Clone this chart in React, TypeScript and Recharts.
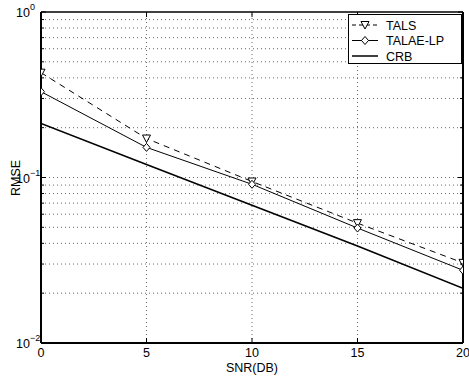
import React from "react";
import { LineChart, Line, XAxis, YAxis, ReferenceLine } from "recharts";

const snr = [0, 5, 10, 15, 20];
const tals = [0.43, 0.172, 0.0946, 0.053, 0.0305];
const talae = [0.33, 0.152, 0.091, 0.0495, 0.0275];
const crb = [0.212, 0.12, 0.068, 0.0385, 0.0214];

const xTicks = [0, 5, 10, 15, 20];
const yMajor = [0.01, 0.1, 1];
const yMinor = [0.02, 0.03, 0.04, 0.05, 0.06, 0.07, 0.08, 0.09, 0.2, 0.3, 0.4, 0.5, 0.6, 0.7, 0.8, 0.9];
const yExp = ["0", "−1", "−2"];

const data = snr.map((s, i) => ({ snr: s, tals: tals[i], talae: talae[i], crb: crb[i] }));

const W = 469;
const H = 376;
const M = { top: 12, right: 6, bottom: 0, left: 0 };
const YW = 41;
const XH = 33;
const PLOT_RIGHT = W - M.right;
const PLOT_TOP = M.top;
const FONT = "'Liberation Sans', Arial, Helvetica, sans-serif";

const expFor = (v: number) => {
  if (Math.abs(v - 1) < 1e-9) return yExp[0];
  if (Math.abs(v - 0.1) < 1e-9) return yExp[1];
  return yExp[2];
};

const YTick = (props: any) => {
  const { x, y, payload } = props;
  const v = payload.value;
  const major = yMajor.some((m) => Math.abs(m - v) < 1e-9);
  const len = major ? 5 : 3;
  return (
    <g>
      <line x1={x} x2={x + len} y1={y} y2={y} stroke="#000" strokeWidth={1} />
      <line x1={PLOT_RIGHT - len} x2={PLOT_RIGHT} y1={y} y2={y} stroke="#000" strokeWidth={1} />
      {major && (
        <text x={x - 11} y={y + 5} textAnchor="end" fontFamily={FONT} fontSize={12.5} fill="#000">
          10
        </text>
      )}
      {major && (
        <text x={x - 11} y={y - 2} textAnchor="start" fontFamily={FONT} fontSize={9} fill="#000">
          {expFor(v)}
        </text>
      )}
    </g>
  );
};

const XTick = (props: any) => {
  const { x, y, payload } = props;
  return (
    <g>
      <line x1={x} x2={x} y1={y} y2={y - 5} stroke="#000" strokeWidth={1} />
      <line x1={x} x2={x} y1={PLOT_TOP} y2={PLOT_TOP + 5} stroke="#000" strokeWidth={1} />
      <text x={x} y={y + 14} textAnchor="middle" fontFamily={FONT} fontSize={12.5} fill="#000">
        {payload.value}
      </text>
    </g>
  );
};

const TriDot = (props: any) => {
  const { cx, cy } = props;
  if (cx == null || cy == null) return null;
  return (
    <path
      d={`M${cx - 4},${cy - 3.5} L${cx + 4},${cy - 3.5} L${cx},${cy + 4} Z`}
      fill="#fff"
      stroke="#000"
      strokeWidth={1}
    />
  );
};

const DiaDot = (props: any) => {
  const { cx, cy } = props;
  if (cx == null || cy == null) return null;
  return (
    <path
      d={`M${cx},${cy - 4} L${cx + 3.5},${cy} L${cx},${cy + 4} L${cx - 3.5},${cy} Z`}
      fill="#fff"
      stroke="#000"
      strokeWidth={1}
    />
  );
};

const legendItems = [
  { name: "TALS", dash: "4 3", marker: "tri", width: 1 },
  { name: "TALAE-LP", dash: undefined, marker: "dia", width: 1 },
  { name: "CRB", dash: undefined, marker: "none", width: 1.5 },
];

const LegendBox = () => (
  <svg width={114} height={50} style={{ display: "block" }}>
    <rect x={0.5} y={0.5} width={113} height={49} fill="#fff" stroke="#000" strokeWidth={1} />
    {legendItems.map((it, i) => {
      const cy = 11 + i * 15.5;
      return (
        <g key={it.name}>
          <line x1={4} x2={30} y1={cy} y2={cy} stroke="#000" strokeWidth={it.width} strokeDasharray={it.dash} />
          {it.marker === "tri" && <TriDot cx={17} cy={cy} />}
          {it.marker === "dia" && <DiaDot cx={17} cy={cy} />}
          <text x={38} y={cy + 4.5} fontFamily={FONT} fontSize={12.5} fill="#000">
            {it.name}
          </text>
        </g>
      );
    })}
  </svg>
);

export default function App() {
  return (
    <div style={{ position: "absolute", left: 0, top: 0, width: W, height: H, background: "#fff" }}>
      <LineChart width={W} height={H} data={data} margin={M}>
        {yMinor.concat([0.1]).map((v) => (
          <ReferenceLine key={"gy" + v} y={v} stroke="#444" strokeWidth={0.8} strokeDasharray="1 3" />
        ))}
        {[5, 10, 15].map((v) => (
          <ReferenceLine key={"gx" + v} x={v} stroke="#444" strokeWidth={0.8} strokeDasharray="1 3" />
        ))}
        <XAxis
          dataKey="snr"
          type="number"
          domain={[0, 20]}
          ticks={xTicks}
          height={XH}
          tickSize={0}
          tickMargin={0}
          tick={<XTick />}
          interval={0}
          axisLine={{ stroke: "#000", strokeWidth: 2 }}
          allowDataOverflow
        />
        <YAxis
          type="number"
          scale="log"
          domain={[0.01, 1]}
          ticks={yMajor.concat(yMinor)}
          width={YW}
          tickSize={0}
          tickMargin={0}
          tick={<YTick />}
          interval={0}
          axisLine={{ stroke: "#000", strokeWidth: 2 }}
          allowDataOverflow
        />
        <ReferenceLine y={1} stroke="#000" strokeWidth={1.5} />
        <ReferenceLine x={20} stroke="#000" strokeWidth={2} />
        <Line
          dataKey="tals"
          name="TALS"
          stroke="#000"
          strokeWidth={1}
          strokeDasharray="6 5"
          dot={<TriDot />}
          isAnimationActive={false}
        />
        <Line
          dataKey="talae"
          name="TALAE-LP"
          stroke="#000"
          strokeWidth={1}
          dot={<DiaDot />}
          isAnimationActive={false}
        />
        <Line dataKey="crb" name="CRB" stroke="#000" strokeWidth={1.6} dot={false} isAnimationActive={false} />
      </LineChart>
      <div style={{ position: "absolute", left: 348, top: 14 }}>
        <LegendBox />
      </div>
      <div style={{ position: "absolute", left: 0, top: 0, pointerEvents: "none" }}>
        <svg width={W} height={H}>
          <text
            x={20}
            y={178}
            transform="rotate(-90 20 178)"
            textAnchor="middle"
            fontFamily={FONT}
            fontSize={12.5}
            fill="#000"
          >
            RMSE
          </text>
          <text x={252} y={372} textAnchor="middle" fontFamily={FONT} fontSize={12.5} fill="#000">
            SNR(DB)
          </text>
        </svg>
      </div>
    </div>
  );
}
